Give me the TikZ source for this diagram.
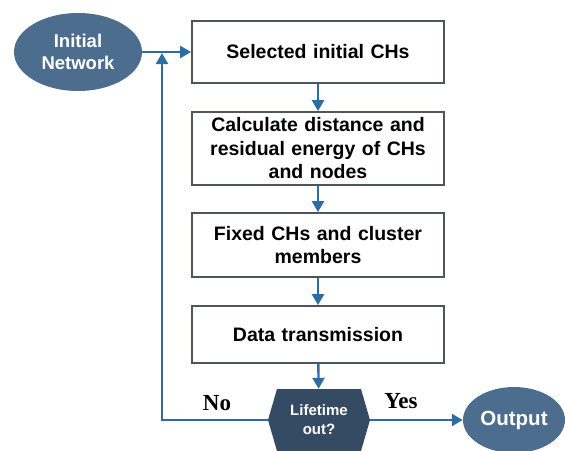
\documentclass[tikz,border=0pt]{standalone}
\usepackage{fontspec}
\setmainfont{Liberation Sans}
\newfontfamily\serifbold{Liberation Serif}
\usetikzlibrary{arrows.meta,shapes.geometric,calc}
\definecolor{ellcol}{HTML}{4D6D8E}
\definecolor{hexcol}{HTML}{354B63}
\definecolor{arrcol}{HTML}{2E6DA4}
\definecolor{boxcol}{HTML}{4D5560}
\tikzset{
  stepbox/.style={draw=boxcol, line width=1.8pt, fill=white, minimum width=252pt, inner sep=2pt,
    align=center, font=\fontsize{19.5}{23.5}\selectfont\bfseries, text width=248pt},
  oval/.style={ellipse, fill=ellcol, text=white, inner sep=0pt, align=center,
    font=\fontsize{18.5}{22}\selectfont\bfseries},
  flow/.style={draw=arrcol, line width=2.4pt, -{Triangle[length=11pt,width=12pt]}},
  lbl/.style={font=\fontsize{23}{26}\serifbold\bfseries},
}
\begin{document}
\begin{tikzpicture}[x=1pt,y=-1pt]
\useasboundingbox (0,0) rectangle (565,450);
\node[oval, minimum width=128pt, minimum height=78pt] (init) at (78,52) {Initial\\Network};
\node[stepbox, minimum height=62pt] (b1) at (318,52) {Selected initial CHs};
\node[stepbox, minimum height=73pt] (b2) at (318,148.5) {Calculate distance and\\residual energy of CHs\\and nodes};
\node[stepbox, minimum height=64pt] (b3) at (318,245) {Fixed CHs and cluster\\members};
\node[stepbox, minimum height=57pt] (b4) at (318,334.5) {Data transmission};
\node[minimum width=102pt, minimum height=62pt, inner sep=0pt, text=white, align=center,
  font=\fontsize{15}{19}\selectfont\bfseries,
  path picture={\fill[hexcol] (path picture bounding box.west)
     -- ([xshift=9pt]path picture bounding box.north west)
     -- ([xshift=-9pt]path picture bounding box.north east)
     -- (path picture bounding box.east)
     -- ([xshift=-9pt]path picture bounding box.south east)
     -- ([xshift=9pt]path picture bounding box.south west) -- cycle;}] (hex) at (319,420) {Lifetime\\out?};
\node[oval, minimum width=102pt, minimum height=66pt, font=\fontsize{20.5}{24}\selectfont\bfseries] (out) at (514,420) {Output};
\coordinate (loop) at (162,53);
\draw[flow] (init) -- (b1);
\draw[flow] (b1) -- (b2);
\draw[flow] (b2) -- (b3);
\draw[flow] (b3) -- (b4);
\draw[flow] (b4) -- (hex);
\draw[flow] (hex.east) -- (out);
\draw[flow] (hex.west) -| (loop);
\node[lbl] (no) at (217,403) {No};
\node[lbl] (yes) at (401,401) {Yes};
\end{tikzpicture}
\end{document}
